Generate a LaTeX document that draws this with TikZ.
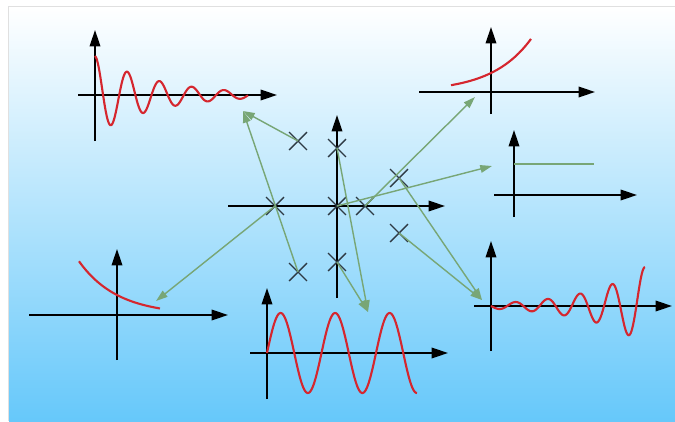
\documentclass[tikz,border=0pt]{standalone}
\definecolor{sigred}{HTML}{D5262E}
\definecolor{mapgreen}{HTML}{78A676}
\definecolor{polegray}{HTML}{2E3A44}
\definecolor{skyblue}{HTML}{66C8FA}
\usepackage{tikz}
\usetikzlibrary{arrows.meta, shapes.misc}

\begin{document}
\begin{tikzpicture}[x=0.03cm, y=-0.03cm,
    axisline/.style={line width=1.6pt, -{Triangle[length=14pt, width=9pt]}},
    resp/.style={sigred, line width=1.8pt},
    mapto/.style={mapgreen, line width=1.2pt, -{Triangle[length=10pt, width=6.5pt]}},
    pole/.style={cross out, draw=polegray, line width=1.2pt, minimum size=14, inner sep=0pt}]
  \useasboundingbox (0,0) rectangle (675,421);
  \shade[top color=white, bottom color=skyblue] (9,7) rectangle (675,421);
  \draw[black!12, line width=0.8pt] (8,421) -- (8,6) -- (675,6);

  % s-plane
  \draw[axisline] (228,206) -- (445,206);
  \draw[axisline] (337,298) -- (337,115);

  % responses
  \draw[axisline] (78,95) -- (277,95);
  \draw[axisline] (95,141) -- (95,30);
  \draw[resp] plot[domain=0:153, samples=220] ({95+\x}, {95-39*exp(-0.016*\x)*cos(\x/32.3*360)});

  \draw[axisline] (419,92) -- (595,92);
  \draw[axisline] (491,114) -- (491,27);
  \draw[resp] plot[domain=-40:40, samples=60] ({491+\x}, {92-19*exp(0.0257*\x)});

  \draw[axisline] (494,195) -- (637,195);
  \draw[axisline] (514,217) -- (514,130);
  \draw[mapgreen, line width=1.3pt] (514,164) -- (594,164);

  \draw[axisline] (29,315) -- (228,315);
  \draw[axisline] (117,360) -- (117,249);
  \draw[resp] plot[domain=-38:43, samples=60] ({117+\x}, {315-20*exp(-0.026*\x)});

  \draw[axisline] (250,353) -- (448,353);
  \draw[axisline] (267,399) -- (267,288);
  \draw[resp] plot[domain=0:150, samples=200] ({267+\x}, {353-40*sin(\x/54.5*360)});

  \draw[axisline] (474,306) -- (672,306);
  \draw[axisline] (491,351) -- (491,241);
  \draw[resp] plot[domain=0:154, samples=240] ({491+\x}, {306+2.6*exp(0.0176*\x)*sin(\x/32.3*360)});

  \coordinate (osc) at (243,111);
  \coordinate (grow) at (475,97);
  \coordinate (step) at (492,166);
  \coordinate (decay) at (156,301);
  \coordinate (sine) at (368,312);
  \coordinate (unstable) at (482,300);

  \foreach \n/\x/\y in {pa/298/141, pb/337/148, pc/275/206, po/337/206, pd/365/206,
                         pe/399/178, pf/399/233, pg/298/272, ph/337/262}
    \node[pole] (\n) at (\x,\y) {};

  \draw[mapto] (pa.center) -- (osc);
  \draw[mapto] (pg.center) -- (osc);
  \draw[mapto] (pc.center) -- (decay);
  \draw[mapto] (pb.center) -- (sine);
  \draw[mapto] (ph.center) -- (sine);
  \draw[mapto] (po.center) -- (step);
  \draw[mapto] (pd.center) -- (grow);
  \draw[mapto] (pe.center) -- (unstable);
  \draw[mapto] (pf.center) -- (unstable);
\end{tikzpicture}
\end{document}
